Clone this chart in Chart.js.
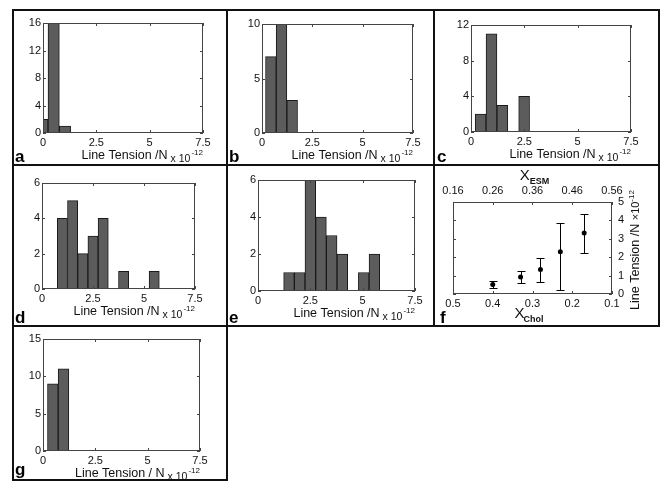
<!DOCTYPE html>
<html>
<head>
<meta charset="utf-8">
<script src="https://cdn.jsdelivr.net/npm/chart.js@4.4.0/dist/chart.umd.min.js"></script>
<style>
  body { margin: 0; background: #fff; width: 660px; height: 481px; position: relative; overflow: hidden; }
  canvas { position: absolute; }
  .ln { position: absolute; background: #111; }
</style>
</head>
<body>
<div class="ln" style="left:12px;top:9px;width:648px;height:2px"></div>
<div class="ln" style="left:12px;top:164px;width:648px;height:2px"></div>
<div class="ln" style="left:12px;top:325px;width:648px;height:2px"></div>
<div class="ln" style="left:12px;top:479px;width:216px;height:2px"></div>
<div class="ln" style="left:12px;top:9px;width:2px;height:472px"></div>
<div class="ln" style="left:226px;top:9px;width:2px;height:472px"></div>
<div class="ln" style="left:433px;top:9px;width:2px;height:318px"></div>
<div class="ln" style="left:658px;top:9px;width:2px;height:318px"></div>

<canvas id="a"></canvas>
<canvas id="b"></canvas>
<canvas id="c"></canvas>
<canvas id="d"></canvas>
<canvas id="e"></canvas>
<canvas id="f"></canvas>
<canvas id="g"></canvas>

<script>
// histogram bin centres (x 10^-12 N) and counts, one pair per panel
const binsA = [-0.03, 0.50, 1.03];
const countsA = [2, 16, 1];
const binsB = [0.44, 0.97, 1.50];
const countsB = [7, 10, 3];
const binsC = [0.45, 0.96, 1.47, 2.49];
const countsC = [2, 11, 3, 4];
const binsD = [1.0, 1.5, 2.0, 2.5, 3.0, 4.0, 5.5];
const countsD = [4, 5, 2, 3, 4, 1, 1];
const binsE = [1.48, 1.99, 2.50, 3.01, 3.52, 4.03, 5.05, 5.56];
const countsE = [1, 1, 6, 4, 3, 2, 1, 2];
const binsG = [0.47, 0.98];
const countsG = [9, 11];

const tensionTicks = [0, 2.5, 5, 7.5];
const yTicksA = [0, 4, 8, 12, 16];
const yTicksB = [0, 5, 10];
const yTicksC = [0, 4, 8, 12];
const yTicksD = [0, 2, 4, 6];
const yTicksE = [0, 2, 4, 6];
const yTicksG = [0, 5, 10, 15];

// panel f: line tension vs composition
const xChol = [0.40, 0.33, 0.28, 0.23, 0.17];
const tensionMean = [0.52, 0.92, 1.33, 2.29, 3.31];
const tensionLow = [0.33, 0.58, 0.64, 0.20, 2.24];
const tensionHigh = [0.73, 1.24, 1.96, 3.87, 4.36];
const cholTicks = [0.5, 0.4, 0.3, 0.2, 0.1];
const esmTicks = [0.16, 0.26, 0.36, 0.46, 0.56];
const fTensionTicks = [0, 1, 2, 3, 4, 5];

const FONT = '"Liberation Sans", Arial, sans-serif';
const tickFont = { family: FONT, size: 11 };
const barFill = '#5c5c5c';
const barEdge = '#1a1a1a';

function place(cv, box) {
  cv.style.left = box[0] + 'px';
  cv.style.top = box[1] + 'px';
  cv.width = box[2];
  cv.height = box[3];
}

function setTicks(list) {
  return s => { s.ticks = list.map(v => ({ value: v })); };
}

// box outline with short inward ticks on all four sides
function framePlugin(xs, ys) {
  return {
    id: 'frame',
    afterDatasetsDraw(chart) {
      const ctx = chart.ctx, a = chart.chartArea;
      ctx.save();
      ctx.strokeStyle = '#444';
      ctx.lineWidth = 1;
      ctx.strokeRect(a.left + 0.5, a.top + 0.5, a.right - a.left - 1, a.bottom - a.top - 1);
      ctx.beginPath();
      const bx = chart.scales[xs[0]], tx = chart.scales[xs[1]];
      bx.ticks.forEach(t => {
        const p = Math.round(bx.getPixelForValue(t.value)) + 0.5;
        ctx.moveTo(p, a.bottom); ctx.lineTo(p, a.bottom - 3);
      });
      tx.ticks.forEach(t => {
        const p = Math.round(tx.getPixelForValue(t.value)) + 0.5;
        ctx.moveTo(p, a.top); ctx.lineTo(p, a.top + 3);
      });
      const y = chart.scales[ys];
      y.ticks.forEach(t => {
        const p = Math.round(y.getPixelForValue(t.value)) + 0.5;
        ctx.moveTo(a.left, p); ctx.lineTo(a.left + 3, p);
        ctx.moveTo(a.right, p); ctx.lineTo(a.right - 3, p);
      });
      ctx.stroke();
      ctx.restore();
    }
  };
}

// draws "main x 10^-12" ending at x, on baseline y
function drawUnit(ctx, main, x, y) {
  ctx.font = '12.5px ' + FONT;
  const w1 = ctx.measureText(main).width;
  ctx.font = '10.5px ' + FONT;
  const w2 = ctx.measureText('x 10').width;
  ctx.font = '8px ' + FONT;
  const w3 = ctx.measureText('-12').width;
  const x0 = x - (w1 + 3 + w2 + 1 + w3);
  ctx.textAlign = 'left';
  ctx.textBaseline = 'alphabetic';
  ctx.fillStyle = '#111';
  ctx.font = '12.5px ' + FONT;
  ctx.fillText(main, x0, y);
  ctx.font = '10.5px ' + FONT;
  ctx.fillText('x 10', x0 + w1 + 3, y + 3);
  ctx.font = '8px ' + FONT;
  ctx.fillText('-12', x0 + w1 + 3 + w2 + 1, y - 4);
}

function letterPlugin(letter, lx, ly) {
  return {
    id: 'letter',
    afterDraw(chart) {
      const ctx = chart.ctx;
      ctx.save();
      ctx.font = 'bold 17px ' + FONT;
      ctx.fillStyle = '#000';
      ctx.textAlign = 'left';
      ctx.textBaseline = 'alphabetic';
      ctx.fillText(letter, lx, ly);
      ctx.restore();
    }
  };
}

function hist(id, bins, counts, yTicks, xTitle, box, plot, letterPos) {
  const cv = document.getElementById(id);
  place(cv, box);
  const yW = 24, xH = 14;
  new Chart(cv, {
    type: 'bar',
    data: {
      datasets: [{
        data: bins.map((b, i) => ({ x: b, y: counts[i] })),
        backgroundColor: barFill,
        borderColor: barEdge,
        borderWidth: 1,
        borderSkipped: false,
        barPercentage: 1,
        categoryPercentage: 1
      }]
    },
    options: {
      responsive: false,
      animation: false,
      events: [],
      layout: {
        padding: {
          left: plot[0] - box[0] - yW,
          top: plot[1] - box[1],
          right: box[0] + box[2] - plot[2],
          bottom: box[1] + box[3] - plot[3] - xH
        }
      },
      plugins: { legend: { display: false }, tooltip: { enabled: false } },
      scales: {
        x: {
          type: 'linear',
          offset: false,
          min: tensionTicks[0],
          max: tensionTicks[tensionTicks.length - 1],
          afterBuildTicks: setTicks(tensionTicks),
          afterFit: s => { s.height = xH; },
          grid: { display: false, drawTicks: false, offset: false },
          border: { display: false },
          ticks: { font: tickFont, color: '#111', padding: 3, maxRotation: 0, autoSkip: false }
        },
        y: {
          min: yTicks[0],
          max: yTicks[yTicks.length - 1],
          afterBuildTicks: setTicks(yTicks),
          afterFit: s => { s.width = yW; },
          grid: { display: false, drawTicks: false },
          border: { display: false },
          ticks: { font: tickFont, color: '#111', padding: 2 }
        }
      }
    },
    plugins: [
      framePlugin(['x', 'x'], 'y'),
      {
        id: 'unitTitle',
        afterDraw(chart) {
          const ctx = chart.ctx, a = chart.chartArea;
          ctx.save();
          drawUnit(ctx, xTitle, a.right, a.bottom + 26);
          ctx.restore();
        }
      },
      letterPlugin(id, letterPos[0], letterPos[1])
    ]
  });
}

hist('a', binsA, countsA, yTicksA, 'Line Tension /N', [14, 11, 212, 153], [43, 23, 203, 133], [1, 151]);
hist('b', binsB, countsB, yTicksB, 'Line Tension /N', [228, 11, 205, 153], [262, 24, 413, 133], [1, 151]);
hist('c', binsC, countsC, yTicksC, 'Line Tension /N', [435, 11, 223, 153], [471, 25, 631, 132], [2, 151]);
hist('d', binsD, countsD, yTicksD, 'Line Tension /N', [14, 166, 212, 159], [42, 183, 195, 289], [1, 157]);
hist('e', binsE, countsE, yTicksE, 'Line Tension /N', [228, 166, 205, 159], [258, 180, 415, 291], [1, 157]);
hist('g', binsG, countsG, yTicksG, 'Line Tension / N', [14, 327, 212, 152], [43, 339, 200, 451], [1, 148]);

// panel f
(function () {
  const cv = document.getElementById('f');
  const box = [435, 166, 223, 159];
  const plot = [453, 202, 612, 294];
  place(cv, box);
  const yW = 20, xH = 14, topH = 19;
  new Chart(cv, {
    type: 'scatter',
    data: {
      datasets: [{
        data: xChol.map((x, i) => ({ x: x, y: tensionMean[i] })),
        xAxisID: 'x',
        yAxisID: 'y',
        pointRadius: 2.5,
        backgroundColor: '#000',
        borderColor: '#000',
        borderWidth: 0
      }]
    },
    options: {
      responsive: false,
      animation: false,
      events: [],
      layout: {
        padding: {
          left: plot[0] - box[0],
          top: plot[1] - box[1] - topH,
          right: box[0] + box[2] - plot[2] - yW,
          bottom: box[1] + box[3] - plot[3] - xH
        }
      },
      plugins: { legend: { display: false }, tooltip: { enabled: false } },
      scales: {
        x: {
          type: 'linear',
          position: 'bottom',
          reverse: true,
          min: 0.1,
          max: 0.5,
          afterBuildTicks: setTicks(cholTicks),
          afterFit: s => { s.height = xH; },
          grid: { display: false, drawTicks: false },
          border: { display: false },
          ticks: { font: tickFont, color: '#111', padding: 3, maxRotation: 0, autoSkip: false, callback: v => String(v) }
        },
        x2: {
          type: 'linear',
          axis: 'x',
          position: 'top',
          min: esmTicks[0],
          max: esmTicks[esmTicks.length - 1],
          afterBuildTicks: setTicks(esmTicks),
          afterFit: s => { s.height = topH; },
          grid: { display: false, drawTicks: false },
          border: { display: false },
          ticks: { font: tickFont, color: '#111', padding: 4, maxRotation: 0, autoSkip: false, callback: v => v.toFixed(2) }
        },
        y: {
          position: 'right',
          min: 0,
          max: 5,
          afterBuildTicks: setTicks(fTensionTicks),
          afterFit: s => { s.width = yW; },
          grid: { display: false, drawTicks: false },
          border: { display: false },
          ticks: { font: tickFont, color: '#111', padding: 6 }
        }
      }
    },
    plugins: [
      framePlugin(['x', 'x2'], 'y'),
      {
        id: 'errorBars',
        afterDatasetsDraw(chart) {
          const ctx = chart.ctx, xs = chart.scales.x, ys = chart.scales.y;
          ctx.save();
          ctx.strokeStyle = '#000';
          ctx.lineWidth = 1;
          ctx.beginPath();
          xChol.forEach((xv, i) => {
            const px = Math.round(xs.getPixelForValue(xv)) + 0.5;
            const lo = Math.round(ys.getPixelForValue(tensionLow[i])) + 0.5;
            const hi = Math.round(ys.getPixelForValue(tensionHigh[i])) + 0.5;
            ctx.moveTo(px, lo); ctx.lineTo(px, hi);
            ctx.moveTo(px - 4, lo); ctx.lineTo(px + 4, lo);
            ctx.moveTo(px - 4, hi); ctx.lineTo(px + 4, hi);
          });
          ctx.stroke();
          ctx.restore();
        }
      },
      {
        id: 'fTitles',
        afterDraw(chart) {
          const ctx = chart.ctx, a = chart.chartArea;
          const cx = (a.left + a.right) / 2;
          ctx.save();
          ctx.fillStyle = '#111';
          ctx.textBaseline = 'alphabetic';
          ctx.textAlign = 'left';
          // X_ESM on top
          ctx.font = '15px ' + FONT;
          let w1 = ctx.measureText('X').width;
          ctx.font = 'bold 9px ' + FONT;
          let w2 = ctx.measureText('ESM').width;
          let x0 = cx - (w1 + w2) / 2 + 2;
          ctx.font = '15px ' + FONT;
          ctx.fillText('X', x0, a.top - 22);
          ctx.font = 'bold 9px ' + FONT;
          ctx.fillText('ESM', x0 + w1, a.top - 18);
          // X_Chol at bottom
          ctx.font = '15px ' + FONT;
          w1 = ctx.measureText('X').width;
          ctx.font = 'bold 9px ' + FONT;
          w2 = ctx.measureText('Chol').width;
          x0 = cx - (w1 + w2) / 2 - 3;
          ctx.font = '15px ' + FONT;
          ctx.fillText('X', x0, a.bottom + 24);
          ctx.font = 'bold 9px ' + FONT;
          ctx.fillText('Chol', x0 + w1 - 1, a.bottom + 28);
          // rotated y title on the right, reading upwards
          ctx.translate(a.right + 27, (a.top + a.bottom) / 2 + 2);
          ctx.rotate(-Math.PI / 2);
          ctx.font = '12.5px ' + FONT;
          const m = 'Line Tension /N ';
          const t1 = ctx.measureText(m).width;
          ctx.font = '11px ' + FONT;
          const t2 = ctx.measureText('\u00d710').width;
          ctx.font = '8px ' + FONT;
          const t3 = ctx.measureText('-12').width;
          const s = -(t1 + t2 + t3) / 2;
          ctx.font = '12.5px ' + FONT;
          ctx.fillText(m, s, 0);
          ctx.font = '11px ' + FONT;
          ctx.fillText('\u00d710', s + t1, 0);
          ctx.font = '8px ' + FONT;
          ctx.fillText('-12', s + t1 + t2, -5);
          ctx.restore();
        }
      },
      letterPlugin('f', 5, 157)
    ]
  });
})();
</script>
</body>
</html>
